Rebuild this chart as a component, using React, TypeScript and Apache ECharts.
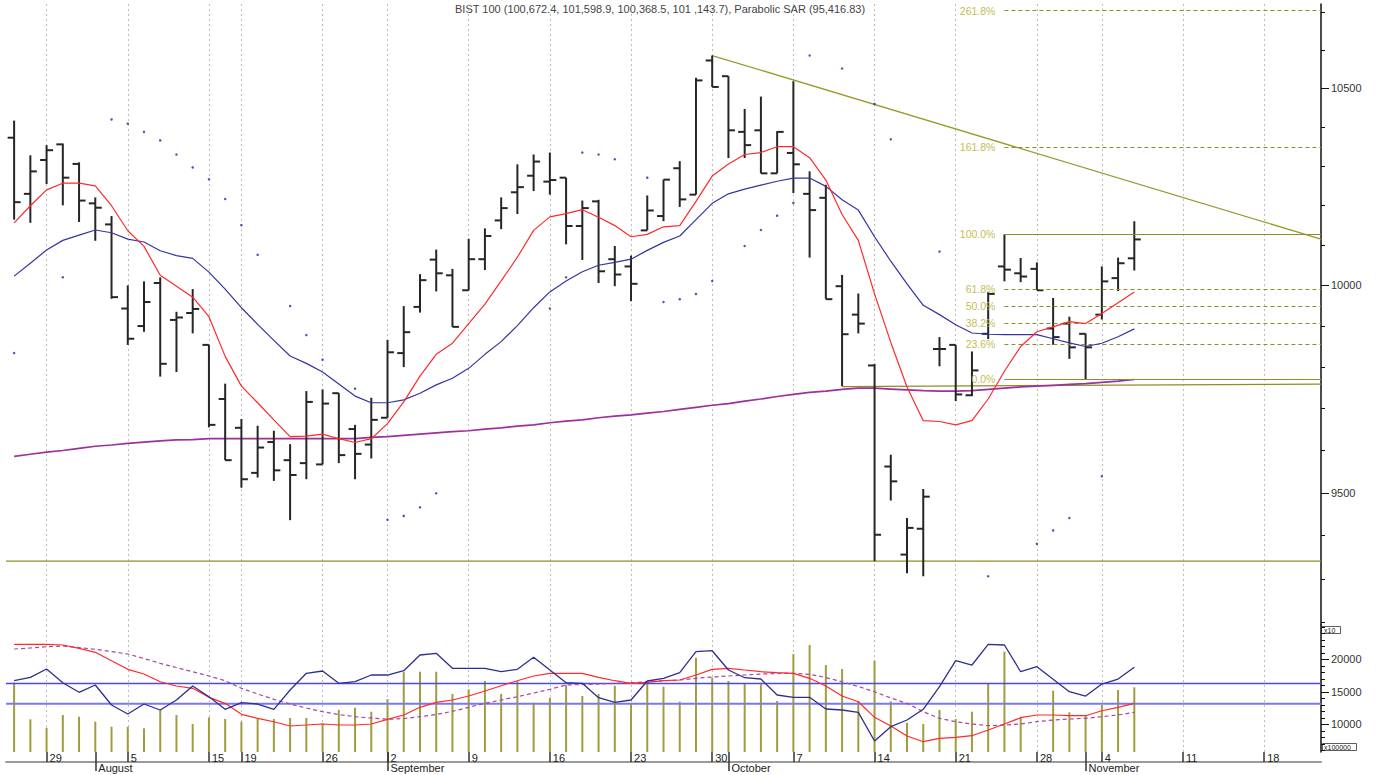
import React, { useEffect, useRef } from 'react';
import * as echarts from 'echarts';

// ---------- axis / tick definitions ----------
const DAY_TICKS = [2, 7, 12, 14, 19, 23, 28, 33, 38, 43, 48, 53, 58, 63, 67, 72, 77];
const DAY_LABELS = ['29', '5', '15', '19', '26', '2', '9', '16', '23', '30', '7', '14', '21', '28', '4', '11', '18'];
const MONTH_TICKS = [5, 23, 44, 66];
const MONTH_LABELS = ['August', 'September', 'October', 'November'];
const X_MIN = -0.5;
const X_MAX = 80.5;

const PRICE_MIN = 9194.5;
const PRICE_MAX = 10720.7;
const PRICE_MAJOR = [9500, 10000, 10500];
const PRICE_MINOR = [9200, 9300, 9400, 9500, 9600, 9700, 9800, 9900, 10000, 10100, 10200, 10300, 10400, 10500, 10600, 10700];
const OSC_MIN = 5740;
const OSC_MAX = 25280;
const OSC_MAJOR = [10000, 15000, 20000];
const OSC_MINOR = [6000, 7000, 8000, 9000, 10000, 11000, 12000, 13000, 14000, 15000, 16000, 17000, 18000, 19000, 20000, 21000, 22000, 23000, 24000, 25000];

// ---------- price data (index units: /10) ----------
const OPEN = [10372, 10229, 10315, 10355, 10305, 10205, 10152, 9943, 9900, 10006,
  9915, 9932, 9854, 9723, 9654, 9547, 9620, 9577, 9570, 9567,
  9737, 9651, 9614, 9678, 9834, 9947, 10064, 10025, 9988, 10065,
  10162, 10233, 10275, 10260, 10270, 10148, 10210, 10065, 10047, 10137,
  10173, 10294, 10227, 10572, 10531, 10387, 10391, 10281, 10333, 10229,
  10219, 9998, 9928, 9804, 9562, 9356, 9416, 9844, 9854, 9732,
  9881, 10047, 10030, 10041, 9894, 9906, 9881, 9928, 10018, 10067.24];
const HIGH = [10416, 10327, 10353, 10357, 10309, 10220, 10173, 10000, 10010, 10020,
  9935, 9991, 9854, 9760, 9675, 9659, 9647, 9615, 9742, 9746,
  9737, 9661, 9726, 9866, 9949, 10028, 10089, 10041, 10116, 10142,
  10220, 10304, 10329, 10334, 10270, 10212, 10214, 10098, 10074, 10225,
  10265, 10312, 10527, 10585, 10531, 10446, 10478, 10389, 10518, 10286,
  10252, 10026, 9980, 9808, 9590, 9441, 9509, 9873, 9854, 9838,
  9984, 10127, 10068, 10057, 9969, 9923, 9882, 10047, 10069, 10159.89];
const LOW = [10164, 10156, 10254, 10200, 10158, 10111, 9967, 9854, 9886, 9777,
  9788, 9882, 9655, 9577, 9512, 9536, 9528, 9436, 9532, 9567,
  9570, 9532, 9581, 9678, 9800, 9933, 9985, 9898, 9988, 10038,
  10140, 10178, 10236, 10227, 10102, 10063, 10006, 9998, 9961, 10137,
  10160, 10196, 10227, 10503, 10320, 10320, 10281, 10281, 10231, 10069,
  9966, 9754, 9882, 9341, 9482, 9313, 9306, 9802, 9718, 9730,
  9868, 10010, 10008, 9988, 9854, 9820, 9770, 9916, 9986, 10036.85];
const CLOSE = [10208, 10286, 10340, 10270, 10212, 10194, 9971, 9869, 9959, 9808,
  9921, 9942, 9661, 9577, 9532, 9607, 9553, 9542, 9716, 9712,
  9589, 9592, 9673, 9836, 9885, 10013, 10030, 9898, 10065, 10123,
  10193, 10246, 10311, 10264, 10148, 10193, 10035, 10027, 10004, 10187,
  10265, 10215, 10520, 10503, 10391, 10353, 10281, 10387, 10304, 10188,
  9966, 9880, 9906, 9402, 9527, 9418, 9491, 9844, 9734, 9792,
  9979, 10039, 10022, 9988, 9873, 9848, 9848, 10010, 10055, 10114.37];

const MA_RED = [10156, 10199, 10239, 10256, 10256, 10249, 10199, 10136, 10097, 10025,
  9998, 9971, 9923, 9826, 9754, 9714, 9673, 9633, 9634, 9639,
  9628, 9619, 9628, 9664, 9716, 9778, 9831, 9858, 9906, 9954,
  10011, 10070, 10137, 10171, 10179, 10189, 10170, 10149, 10121, 10127,
  10146, 10149, 10210, 10274, 10305, 10329, 10334, 10349, 10349, 10321,
  10264, 10177, 10112, 9979, 9860, 9752, 9671, 9669, 9661, 9671,
  9723, 9790, 9850, 9886, 9898, 9911, 9906, 9931, 9957, 9984];
const MA_BLUE = [10023, 10055, 10088, 10112, 10125, 10138, 10131, 10115, 10108, 10086,
  10074, 10067, 10033, 9991, 9945, 9904, 9865, 9827, 9809, 9788,
  9759, 9730, 9714, 9714, 9721, 9737, 9757, 9773, 9797, 9831,
  9862, 9901, 9945, 9984, 10011, 10034, 10050, 10057, 10065, 10087,
  10107, 10123, 10164, 10205, 10229, 10241, 10251, 10261, 10269, 10269,
  10248, 10214, 10188, 10121, 10060, 10004, 9951, 9928, 9903, 9883,
  9880, 9879, 9879, 9879, 9869, 9859, 9850, 9858, 9874, 9893];
const MA_PURPLE = [9586, 9591, 9596, 9600, 9605, 9610, 9613, 9617, 9620, 9623,
  9625, 9626, 9628, 9628, 9628, 9628, 9628, 9628, 9628, 9628,
  9628, 9628, 9631, 9633, 9636, 9639, 9642, 9645, 9647, 9651,
  9654, 9658, 9661, 9666, 9670, 9673, 9678, 9682, 9685, 9689,
  9693, 9698, 9703, 9708, 9712, 9718, 9723, 9729, 9734, 9739,
  9742, 9746, 9749, 9749, 9747, 9745, 9743, 9742, 9742, 9743,
  9746, 9749, 9752, 9754, 9756, 9758, 9760, 9763, 9766, 9770];
const SAR = [9834, null, null, 10020, null, null, 10419, 10408, 10387, 10365,
  10329, 10296, 10266, 10216, 10150, 10076, null, 9949, 9878, 9818,
  null, 9748, null, 9437, 9446, 9466, 9499, null, null, null,
  null, null, null, 9943, 10020, 10334, 10329, 10317, null, 10270,
  9959, 9966, 9979, 10011, null, 10098, 10138, 10174, 10206, 10585,
  null, 10551, null, 10459, 10368, null, null, 10084, null, null,
  9306, null, null, 9381, 9412, 9441, null, 9539, null, null];

const FIB_LOW = 9771;
const FIB_HIGH = 10127;
const FIB_RATIOS = [0, 0.236, 0.382, 0.5, 0.618, 1, 1.618, 2.618];
const FIB_START = 61;
const TREND_LINE = [[43, 10585], [80.5, 10115]];
const FLOOR_LINE = [[51, 9753], [80.5, 9759]];
const SUPPORT_LEVEL = 9341;

// ---------- lower panel ----------
const VOLUME = [16400, 10769, 9477, 11431, 11169, 10400, 9631, 9631, 9385, 12200,
  11431, 10046, 11077, 10815, 10400, 10923, 10815, 10969, 10969, 10154,
  12200, 12554, 11938, 13892, 18092, 18092, 18092, 14662, 15385, 16662,
  14662, 16662, 13323, 14092, 16046, 14354, 14662, 15938, 13231, 16662,
  15785, 13477, 20246, 17169, 16662, 16200, 16154, 13585, 20815, 22200,
  19123, 18508, 13585, 19785, 13538, 10246, 10046, 12200, 10815, 11938,
  16200, 21169, 11169, null, 15169, 11846, 11431, 12969, 15277, 15692];
const OSC_BLUE = [16708, 17231, 18508, 16400, 14923, 16046, 12969, 11585, 13123, 12200,
  13738, 15892, 14246, 12308, 13323, 13123, 12308, 15277, 17846, 18200,
  16308, 16554, 17585, 17585, 18246, 20662, 20923, 18615, 18615, 18615,
  18092, 18462, 20308, 18354, 16400, 16308, 14092, 13385, 13738, 16662,
  17077, 17938, 21169, 21323, 18354, 17169, 16969, 14508, 14154, 14154,
  12354, 12200, 11846, 7431, 9631, 10662, 12308, 15785, 19785, 19123,
  22308, 22200, 18092, 18862, 16923, 15015, 14354, 16200, 16969, 18769];
const OSC_RED = [22308, 22308, 22308, 22200, 21692, 21077, 19785, 18462, 17738, 16554,
  15892, 15538, 14154, 13231, 11538, 10923, 10400, 9738, 9892, 10046,
  9892, 9892, 10046, 10769, 11431, 12615, 13385, 13738, 14354, 15123,
  15938, 16708, 17431, 17846, 17846, 17846, 17231, 16708, 16308, 16462,
  16708, 16815, 17585, 18462, 18615, 18354, 18092, 17938, 17846, 17077,
  15892, 14354, 13477, 11077, 9738, 8200, 7323, 7846, 8000, 8246,
  9123, 10046, 11015, 11431, 11431, 11323, 11323, 12092, 12615, 13231];
const OSC_PURPLE = [21585, 21738, 21938, 22046, 21815, 21538, 21200, 20815, 20123, 19385,
  18738, 18092, 17431, 16708, 15538, 14662, 13846, 13123, 12508, 11938,
  11508, 11169, 10969, 10769, 10892, 11169, 11508, 12000, 12615, 13231,
  13738, 14246, 14815, 15385, 16046, 16123, 16200, 16308, 16400, 16554,
  16692, 16815, 17077, 17277, 17431, 17585, 17738, 17815, 17846, 17692,
  17200, 16554, 15815, 15015, 14046, 13231, 11938, 10923, 10400, 10046,
  9785, 9892, 10046, 10400, 10662, 10815, 10923, 11169, 11431, 11846];
const OSC_LEVELS = [16292, 13169];

const TITLE = 'BIST 100 (100,672.4, 101,598.9, 100,368.5, 101 ,143.7), Parabolic SAR (95,416.83)';

const FONT = '"Liberation Sans", Arial, sans-serif';
const ln = Math.log;

function buildOption() {
  const ohlc = OPEN.map((o, i) => [i, ln(o), ln(HIGH[i]), ln(LOW[i]), ln(CLOSE[i])]);
  const priceLine = (arr: number[]) => arr.map((v, i) => [i, ln(v)]);
  const oscLine = (arr: (number | null)[]) => arr.map((v, i) => [i, v]);
  const sarData = SAR.map((v, i) => (v == null ? null : [i, ln(v)])).filter((d) => d != null);
  const volData = VOLUME.map((v, i) => (v == null ? null : [i, v])).filter((d) => d != null);
  const grid = { color: '#bdbdbd', type: [2, 3], width: 1 } as any;
  const baseLine = { type: 'line', symbol: 'none', silent: true, animation: false } as any;

  const fibLines = FIB_RATIOS.map((r) => {
    const lv = FIB_LOW + (FIB_HIGH - FIB_LOW) * r;
    const solid = r === 0 || r === 1;
    return [
      {
        coord: [FIB_START, ln(lv)],
        lineStyle: { color: '#8e8e26', type: solid ? 'solid' : [4, 3], width: 1 },
        label: {
          show: true, position: 'start', formatter: (r * 100).toFixed(1) + '%',
          color: '#c4bd57', fontSize: 10.5, fontFamily: FONT, distance: 9,
        },
      },
      { coord: [X_MAX, ln(lv)] },
    ];
  });

  const ohlcRender = (params: any, api: any) => {
    const x = api.value(0);
    const o = api.coord([x, api.value(1)]);
    const h = api.coord([x, api.value(2)]);
    const l = api.coord([x, api.value(3)]);
    const c = api.coord([x, api.value(4)]);
    const t = 6.5;
    const st = { stroke: '#262626', lineWidth: 2 };
    return {
      type: 'group',
      children: [
        { type: 'line', shape: { x1: h[0], y1: h[1], x2: l[0], y2: l[1] }, style: st },
        { type: 'line', shape: { x1: o[0] - t, y1: o[1], x2: o[0], y2: o[1] }, style: st },
        { type: 'line', shape: { x1: c[0], y1: c[1], x2: c[0] + t, y2: c[1] }, style: st },
      ],
    };
  };

  const label11 = { fontSize: 11, fontFamily: FONT, color: '#222' };
  const noZeroLine = { show: false, onZero: false };

  return {
    animation: false,
    backgroundColor: '#ffffff',
    grid: [
      { left: 6, right: 55, top: 4, height: 621 },
      { left: 6, right: 55, top: 625, height: 127 },
    ],
    xAxis: [
      {
        type: 'value', gridIndex: 0, min: X_MIN, max: X_MAX, position: 'bottom',
        axisLine: noZeroLine, axisLabel: { show: false },
        axisTick: { show: false, customValues: DAY_TICKS },
        splitLine: { show: true, lineStyle: grid },
      },
      {
        type: 'value', gridIndex: 1, min: X_MIN, max: X_MAX, position: 'top',
        axisLine: noZeroLine, axisLabel: { show: false },
        axisTick: { show: false, customValues: DAY_TICKS },
        splitLine: { show: true, lineStyle: grid },
      },
      {
        type: 'value', gridIndex: 1, min: X_MIN, max: X_MAX, position: 'bottom',
        axisLine: noZeroLine,
        axisTick: {
          show: true, customValues: [...DAY_TICKS, ...MONTH_TICKS].sort((a, b) => a - b),
          length: 10, lineStyle: { color: '#333', width: 1.5 },
        },
        axisLabel: {
          show: true, customValues: DAY_TICKS, margin: 0, align: 'left', padding: [0, 0, 0, 3],
          formatter: (v: number) => DAY_LABELS[DAY_TICKS.indexOf(Math.round(v))] ?? '',
          ...label11,
        },
        splitLine: { show: false },
      },
      {
        type: 'value', gridIndex: 1, min: X_MIN, max: X_MAX, position: 'bottom', offset: 10,
        axisLine: { show: true, onZero: false, lineStyle: { color: '#9a9a9a', width: 2 } },
        axisTick: { show: true, customValues: MONTH_TICKS, length: 9, lineStyle: { color: '#333', width: 1.5 } },
        axisLabel: {
          show: true, customValues: MONTH_TICKS, margin: 0, align: 'left', padding: [0, 0, 0, 3],
          formatter: (v: number) => MONTH_LABELS[MONTH_TICKS.indexOf(Math.round(v))] ?? '',
          ...label11,
        },
        splitLine: { show: false },
      },
    ],
    yAxis: [
      {
        type: 'value', gridIndex: 0, position: 'right', min: ln(PRICE_MIN), max: ln(PRICE_MAX),
        axisLine: { show: true, onZero: false, lineStyle: { color: '#111', width: 1.5 } },
        axisTick: { show: true, customValues: PRICE_MINOR.map(ln), length: 4, lineStyle: { color: '#111' } },
        axisLabel: { show: false }, splitLine: { show: false },
      },
      {
        type: 'value', gridIndex: 0, position: 'right', min: ln(PRICE_MIN), max: ln(PRICE_MAX),
        axisLine: noZeroLine,
        axisTick: { show: true, customValues: PRICE_MAJOR.map(ln), length: 8, lineStyle: { color: '#111' } },
        axisLabel: {
          show: true, customValues: PRICE_MAJOR.map(ln), margin: 10,
          formatter: (v: number) => String(Math.round(Math.exp(v))), ...label11, color: '#333',
        },
        splitLine: { show: false },
      },
      {
        type: 'value', gridIndex: 1, position: 'right', min: OSC_MIN, max: OSC_MAX,
        axisLine: { show: true, onZero: false, lineStyle: { color: '#111', width: 1.5 } },
        axisTick: { show: true, customValues: OSC_MINOR, length: 4, lineStyle: { color: '#111' } },
        axisLabel: { show: false }, splitLine: { show: false },
      },
      {
        type: 'value', gridIndex: 1, position: 'right', min: OSC_MIN, max: OSC_MAX,
        axisLine: noZeroLine,
        axisTick: { show: true, customValues: OSC_MAJOR, length: 8, lineStyle: { color: '#111' } },
        axisLabel: {
          show: true, customValues: OSC_MAJOR, margin: 10,
          formatter: (v: number) => String(Math.round(v)), ...label11, color: '#333',
        },
        splitLine: { show: false },
      },
    ],
    graphic: [
      {
        type: 'text', x: 455, y: 9, silent: true,
        style: { text: TITLE, fontSize: 11, fontFamily: FONT, fill: '#444', verticalAlign: 'middle' },
      },
      { type: 'rect', shape: { x: 1321.5, y: 626.5, width: 19, height: 7 }, style: { fill: '#fff', stroke: '#333', lineWidth: 0.8 } },
      { type: 'text', x: 1324, y: 630, style: { text: 'x10', fontSize: 7, fontFamily: FONT, fill: '#222', verticalAlign: 'middle' } },
      { type: 'rect', shape: { x: 1322.5, y: 743.5, width: 34, height: 7 }, style: { fill: '#fff', stroke: '#333', lineWidth: 0.8 } },
      { type: 'text', x: 1324, y: 747, style: { text: 'x100000', fontSize: 7, fontFamily: FONT, fill: '#222', verticalAlign: 'middle' } },
    ],
    series: [
      // ---- price panel ----
      {
        ...baseLine, name: 'Support', xAxisIndex: 0, yAxisIndex: 0,
        data: [[X_MIN, ln(SUPPORT_LEVEL)], [X_MAX, ln(SUPPORT_LEVEL)]],
        lineStyle: { color: '#8e8e22', width: 1.2 }, z: 2,
      },
      {
        ...baseLine, name: 'Floor', xAxisIndex: 0, yAxisIndex: 0,
        data: FLOOR_LINE.map(([x, v]) => [x, ln(v)]),
        lineStyle: { color: '#8e8e22', width: 1.2 }, z: 2,
      },
      {
        ...baseLine, name: 'Trend', xAxisIndex: 0, yAxisIndex: 0,
        data: TREND_LINE.map(([x, v]) => [x, ln(v)]),
        lineStyle: { color: '#9a9a2e', width: 1.3 }, z: 2,
      },
      {
        ...baseLine, name: 'MA long', xAxisIndex: 0, yAxisIndex: 0,
        data: priceLine(MA_PURPLE), lineStyle: { color: '#9c309c', width: 1.7 }, z: 3,
      },
      {
        type: 'custom', name: 'BIST 100', xAxisIndex: 0, yAxisIndex: 0,
        renderItem: ohlcRender, data: ohlc, encode: { x: 0, y: [1, 2, 3, 4] }, silent: true, z: 4,
      },
      {
        ...baseLine, name: 'MA mid', xAxisIndex: 0, yAxisIndex: 0,
        data: priceLine(MA_BLUE), lineStyle: { color: '#3434a2', width: 1.2 }, z: 5,
      },
      {
        ...baseLine, name: 'MA short', xAxisIndex: 0, yAxisIndex: 0,
        data: priceLine(MA_RED), lineStyle: { color: '#ff2a2a', width: 1.2 }, z: 6,
        markLine: { silent: true, symbol: ['none', 'none'], animation: false, data: fibLines },
      },
      {
        type: 'scatter', name: 'Parabolic SAR', xAxisIndex: 0, yAxisIndex: 0,
        data: sarData, symbolSize: 2.5, itemStyle: { color: '#2a2a9a' }, silent: true, z: 7,
      },
      // ---- lower panel ----
      {
        type: 'bar', name: 'Volume', xAxisIndex: 1, yAxisIndex: 2, data: volData,
        barWidth: 2, itemStyle: { color: '#a29c3e' }, silent: true, z: 2,
      },
      {
        ...baseLine, name: 'Level high', xAxisIndex: 1, yAxisIndex: 2,
        data: [[X_MIN, OSC_LEVELS[0]], [X_MAX, OSC_LEVELS[0]]],
        lineStyle: { color: '#4848f2', width: 1.5 }, z: 3,
      },
      {
        ...baseLine, name: 'Level low', xAxisIndex: 1, yAxisIndex: 2,
        data: [[X_MIN, OSC_LEVELS[1]], [X_MAX, OSC_LEVELS[1]]],
        lineStyle: { color: '#7878f6', width: 2 }, z: 3,
      },
      {
        ...baseLine, name: 'Osc signal', xAxisIndex: 1, yAxisIndex: 2,
        data: oscLine(OSC_PURPLE), lineStyle: { color: '#a548a5', width: 1.2, type: [4, 3] }, z: 4,
      },
      {
        ...baseLine, name: 'Osc avg', xAxisIndex: 1, yAxisIndex: 2,
        data: oscLine(OSC_RED), lineStyle: { color: '#ff2a2a', width: 1.2 }, z: 5,
      },
      {
        ...baseLine, name: 'Osc', xAxisIndex: 1, yAxisIndex: 2,
        data: oscLine(OSC_BLUE), lineStyle: { color: '#2e2e92', width: 1.3 }, z: 6,
      },
    ],
  };
}

export default function App() {
  const ref = useRef<HTMLDivElement>(null);
  useEffect(() => {
    if (!ref.current) return;
    const chart = echarts.init(ref.current, undefined, { renderer: 'svg' });
    chart.setOption(buildOption() as any);
    return () => chart.dispose();
  }, []);
  return (
    <div
      ref={ref}
      style={{ position: 'absolute', left: 0, top: 0, width: 1376, height: 775, background: '#fff' }}
    />
  );
}
